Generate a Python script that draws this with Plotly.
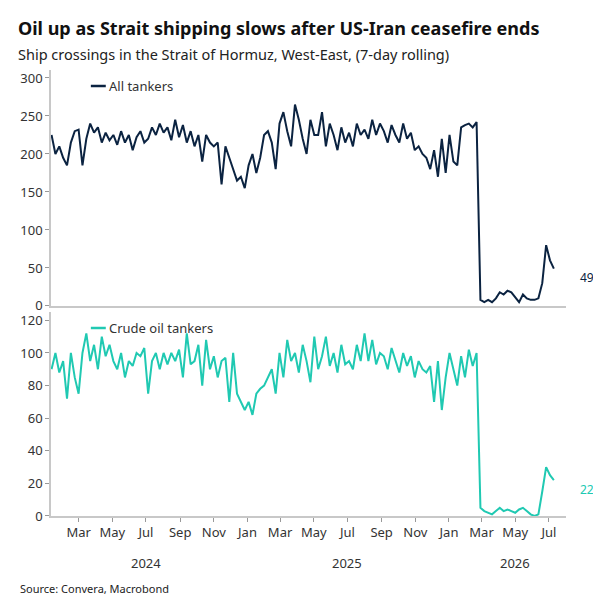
import pandas as pd
import plotly.graph_objects as go
from plotly.subplots import make_subplots

all_tankers = [225, 200, 210,
    195, 185, 215, 230,
    232, 185, 220, 240, 228,
    235, 215, 228, 218,
    225, 212, 230, 215, 225,
    205, 222, 230, 215,
    220, 235, 225, 240, 228,
    235, 218, 245, 222,
    238, 215, 230, 210,
    225, 190, 225, 215, 210,
    215, 160, 210, 195,
    180, 165, 170, 155,
    185, 200, 175, 195, 225,
    230, 215, 180, 240,
    255, 230, 210, 265, 245,
    220, 200, 245, 225,
    225, 255, 210, 240,
    225, 205, 235, 215, 228,
    210, 240, 225, 232,
    220, 245, 225, 240,
    230, 215, 238, 225, 215,
    240, 220, 228, 205,
    210, 200, 195, 180,
    205, 170, 220, 175, 225,
    190, 185, 235, 238,
    240, 235, 242,
    8, 5, 8, 5, 10,
    18, 15, 20, 18,
    12, 5, 15, 10,
    8, 8, 10, 30,
    80, 60, 49]
crude_tankers = [90, 100, 88,
    95, 72, 100, 85,
    75, 100, 112, 95, 105,
    90, 110, 98, 105,
    95, 90, 100, 85, 95,
    92, 100, 98, 103,
    75, 95, 100, 90, 100,
    93, 100, 95, 102,
    85, 112, 93, 95,
    105, 80, 108, 90, 98,
    85, 95, 97, 70,
    100, 75, 70, 65,
    70, 62, 75, 78, 80,
    85, 90, 75, 100,
    85, 108, 95, 100, 88,
    105, 95, 82, 110,
    90, 98, 110, 92,
    100, 88, 105, 93, 95,
    90, 105, 95, 112,
    95, 108, 93, 100,
    98, 90, 103, 95, 88,
    100, 92, 98, 85,
    95, 90, 88, 92,
    70, 95, 65, 85, 100,
    90, 80, 98, 85,
    102, 92, 100,
    5, 3, 2, 1, 3,
    5, 3, 4, 3,
    2, 4, 5, 3,
    1, 0, 1, 15,
    30, 25, 22]
dates = pd.date_range("2024-01-12", periods=len(all_tankers), freq="7D")

month_ticks = ["2024-03-01","2024-05-01","2024-07-01","2024-09-01","2024-11-01","2025-01-01",
               "2025-03-01","2025-05-01","2025-07-01","2025-09-01","2025-11-01","2026-01-01",
               "2026-03-01","2026-05-01","2026-07-01"]
month_labels = ["Mar","May","Jul","Sep","Nov","Jan"]*2 + ["Mar","May","Jul"]
year_labels = ["2024", "2025", "2026"]
year_pos = ["2024-07-01", "2025-07-01", "2026-05-01"]

NAVY = "#0b2341"; TEAL = "#20c9b2"; GRAY = "#c8c8c8"; TXT = "#333333"
fig = make_subplots(rows=2, cols=1, shared_xaxes=True)
fig.add_trace(go.Scatter(x=dates, y=all_tankers, mode="lines", line=dict(color=NAVY, width=2)), 1, 1)
fig.add_trace(go.Scatter(x=dates, y=crude_tankers, mode="lines", line=dict(color=TEAL, width=2)), 2, 1)

xr = ["2024-01-11", "2026-08-01"]
for ax in ["xaxis", "xaxis2"]:
    fig.layout[ax].update(range=xr, showgrid=False, showline=True, linecolor=GRAY, linewidth=1.5,
                          ticks="outside", tickcolor="#999", ticklen=4,
                          tickvals=month_ticks, ticktext=month_labels,
                          tickfont=dict(size=13, color=TXT), zeroline=False)
fig.layout.xaxis.update(showticklabels=False, ticks="")
fig.layout.yaxis.update(domain=[0.471, 1], range=[0, 310.5], tickvals=list(range(0, 301, 50)))
fig.layout.yaxis2.update(domain=[0, 0.457], range=[0, 125], tickvals=list(range(0, 121, 20)))
for ax in ["yaxis", "yaxis2"]:
    fig.layout[ax].update(showgrid=False, showline=True, linecolor=GRAY, linewidth=1.5, ticks="outside",
                          tickcolor="#999", ticklen=4, tickfont=dict(size=13, color=TXT), zeroline=False)

L, R, T, B = 41, 43, 62, 93
W, H = 601 - L - R, 601 - T - B

# texts placed in full-figure pixel positions (x from left, y from top)
ann = [
    ("<b>Oil up as Strait shipping slows after US-Iran ceasefire ends</b>", 6, 20, dict(size=18, color="#111")),
    ("Ship crossings in the Strait of Hormuz, West-East, (7-day rolling)", 6, 46, dict(size=14.5, color="#222")),
    ("Source: Convera, Macrobond", 8, 580, dict(size=11, color="#222")),
    ("All tankers", 97, 78, dict(size=13, color=TXT)),
    ("Crude oil tankers", 97, 320, dict(size=13, color=TXT)),
    ("49", 570, 269, dict(size=12, color=NAVY)),
    ("22", 570, 481, dict(size=12, color=TEAL)),
]
annotations = []
for text, px, py, font in ann:
    annotations.append(dict(text=text, x=(px - L) / W, y=(601 - B - py) / H, xref="paper", yref="paper",
                            xanchor="left", yanchor="middle", showarrow=False, font=font))
for lbl, pos in zip(year_labels, year_pos):
    annotations.append(dict(text=lbl, x=pos, y=(601 - B - 555) / H, xref="x2", yref="paper",
                            yanchor="middle", showarrow=False, font=dict(size=13, color=TXT)))

fig.update_layout(width=601, height=601, margin=dict(l=L, r=R, t=T, b=B),
                  paper_bgcolor="white", plot_bgcolor="white", showlegend=False,
                  font=dict(family="Noto Sans"), annotations=annotations)
for yy, col in [(78, NAVY), (320, TEAL)]:
    fig.add_shape(type="line", xref="paper", yref="paper", x0=(81 - L) / W, x1=(96 - L) / W,
                  y0=(601 - B - yy) / H, y1=(601 - B - yy) / H, line=dict(color=col, width=2.5))
fig.write_html("out.html")
